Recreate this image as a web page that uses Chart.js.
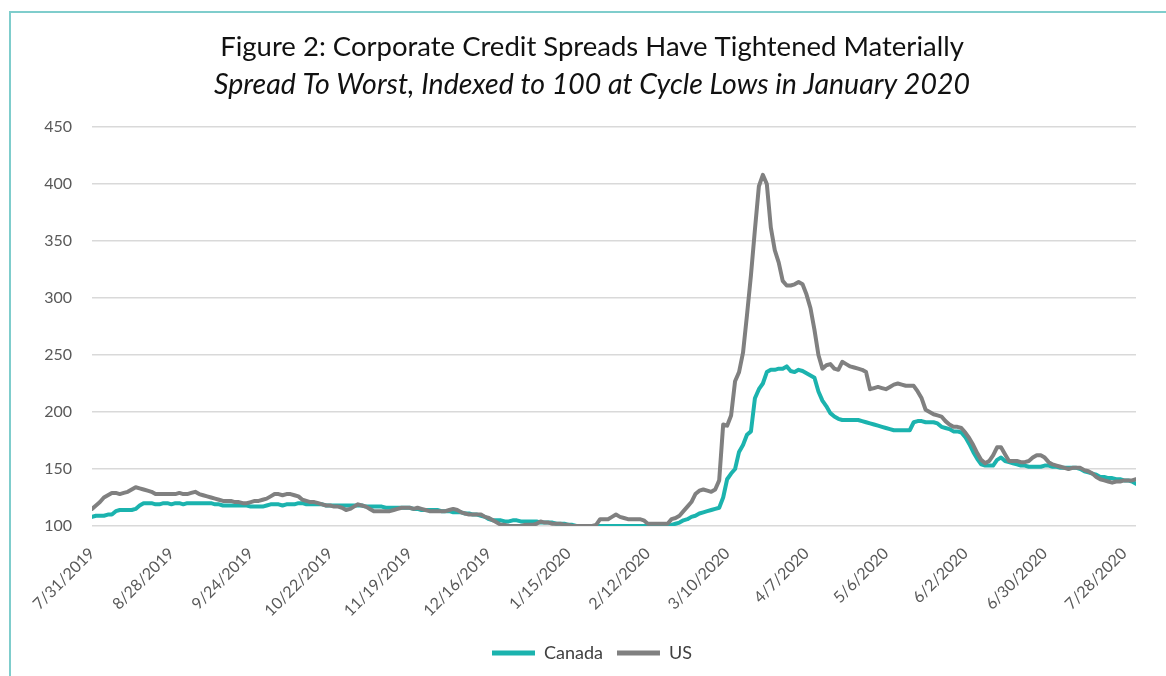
<!DOCTYPE html>
<html>
<head>
<meta charset="utf-8">
<script src="https://cdn.jsdelivr.net/npm/chart.js@4.4.1/dist/chart.umd.min.js"></script>
<style>
  html, body { margin: 0; padding: 0; background: #ffffff; }
  #wrap { position: relative; width: 1166px; height: 676px; }
</style>
</head>
<body>
<div id="wrap"><canvas id="c" width="1166" height="676"></canvas></div>
<script>
// Tick labels (every 20 trading days) and their positions in trading-day index
const tickLabels = ["7/31/2019","8/28/2019","9/24/2019","10/22/2019","11/19/2019","12/16/2019","1/15/2020","2/12/2020","3/10/2020","4/7/2020","5/6/2020","6/2/2020","6/30/2020","7/28/2020"];
const tickIndex = [0,20,40,60,80,100,120,140,160,180,200,220,240,260];

// US spread to worst, indexed (one value per trading day, 7/31/2019 .. 7/31/2020)
const us = [
115,118,121,125,127,129,129,128,129,130,
132,134,133,132,131,130,128,128,128,128,
128,128,129,128,128,129,130,128,127,126,
125,124,123,122,122,122,121,121,120,120,
121,122,122,123,124,126,128,128,127,128,
128,127,126,123,122,121,121,120,119,118,
118,117,117,116,114,115,117,119,118,117,
115,113,113,113,113,113,114,115,116,116,
116,115,116,115,114,113,113,113,113,113,
114,115,114,112,111,110,110,110,110,108,
107,105,103,101,101,100,100,100,100,101,
101,101,102,104,103,103,102,102,102,101,
101,100,100,100,100,100,100,101,106,106,
106,108,110,108,107,106,106,106,106,105,
102,102,102,102,102,102,106,107,109,113,
117,121,128,131,132,131,130,132,140,189,
188,197,227,235,252,285,320,360,398,408,
400,362,342,331,315,311,311,312,314,312,
303,291,272,250,238,241,242,238,237,244,
242,240,239,238,237,235,220,221,222,221,
220,222,224,225,224,223,223,223,218,212,
202,200,198,197,196,192,189,187,187,186,
182,177,171,164,158,155,157,162,169,169,
163,157,157,157,156,156,157,160,162,162,
160,156,154,153,152,151,150,151,151,151,
149,148,146,143,141,140,139,138,139,139,
140,140,140,141
];

// Canada spread to worst, indexed
const canada = [
108,109,109,109,110,110,113,114,114,114,
114,115,118,120,120,120,119,119,120,120,
119,120,120,119,120,120,120,120,120,120,
120,119,119,118,118,118,118,118,118,118,
117,117,117,117,118,119,119,119,118,119,
119,119,120,120,119,119,119,119,119,118,
118,118,118,118,118,118,118,118,118,117,
117,117,117,117,116,116,116,116,116,116,
116,115,115,114,114,114,114,114,113,113,
113,112,112,112,111,111,110,110,109,108,
106,105,105,105,104,104,105,105,104,104,
104,104,104,103,103,103,103,102,102,102,
101,101,100,100,100,100,100,100,100,100,
100,100,100,100,100,100,100,100,100,100,
100,100,100,100,100,100,101,102,103,105,
106,108,109,111,112,113,114,115,116,125,
141,146,150,165,171,180,183,212,220,225,
235,237,237,238,238,240,236,235,237,236,
234,232,230,218,210,205,199,196,194,193,
193,193,193,193,192,191,190,189,188,187,
186,185,184,184,184,184,184,191,192,192,
191,191,191,190,187,186,185,183,183,182,
178,172,165,159,154,153,153,153,158,160,
157,156,155,154,153,153,152,152,152,152,
153,153,152,152,151,151,151,151,151,150,
148,147,146,145,143,143,142,142,141,141,
140,140,139,137
];

const yTicks = [100,150,200,250,300,350,400,450];

const FONT = "Lato, 'Open Sans', sans-serif";

const framePlugin = {
  id: 'frame',
  beforeDraw(chart) {
    const ctx = chart.ctx;
    ctx.save();
    ctx.fillStyle = '#ffffff';
    ctx.fillRect(0, 0, chart.width, chart.height);
    ctx.strokeStyle = '#7fcdcc';
    ctx.lineWidth = 2;
    ctx.beginPath();
    ctx.moveTo(10, chart.height + 5);
    ctx.lineTo(10, 12);
    ctx.lineTo(chart.width + 5, 12);
    ctx.stroke();
    ctx.restore();
  }
};

const toPts = arr => arr.map((v, i) => ({ x: i, y: v }));

new Chart(document.getElementById('c'), {
  type: 'line',
  data: {
    datasets: [
      { label: 'Canada', data: toPts(canada), borderColor: '#1bb3ae', backgroundColor: '#1bb3ae',
        borderWidth: 4, pointRadius: 0, tension: 0, order: 1, borderJoinStyle: 'round', borderCapStyle: 'round' },
      { label: 'US', data: toPts(us), borderColor: '#808080', backgroundColor: '#808080',
        borderWidth: 4, pointRadius: 0, tension: 0, order: 0, borderJoinStyle: 'round', borderCapStyle: 'round' }
    ]
  },
  options: {
    responsive: false,
    animation: false,
    events: [],
    layout: { padding: { left: 18, right: 0, top: 0, bottom: 4 } },
    plugins: {
      title: {
        display: true,
        text: 'Figure 2: Corporate Credit Spreads Have Tightened Materially',
        color: '#111111',
        font: { family: FONT, size: 27.5, weight: 'normal' },
        padding: { top: 30.5, bottom: 4.4 }
      },
      subtitle: {
        display: true,
        text: 'Spread To Worst, Indexed to 100 at Cycle Lows in January 2020',
        color: '#111111',
        font: { family: FONT, size: 28.5, weight: 'normal', style: 'italic' },
        padding: { top: 0, bottom: 24.9 }
      },
      legend: {
        position: 'bottom',
        labels: {
          boxWidth: 43,
          boxHeight: 5,
          padding: 14,
          color: '#404040',
          font: { family: FONT, size: 18 },
          generateLabels: chart => chart.data.datasets.map((ds, i) => ({
            text: ds.label, fillStyle: ds.borderColor, strokeStyle: ds.borderColor,
            lineWidth: 0, hidden: false, datasetIndex: i, fontColor: '#404040'
          }))
        }
      },
      tooltip: { enabled: false }
    },
    scales: {
      x: {
        type: 'linear',
        min: 0,
        max: canada.length - 1,
        grid: { display: false, drawTicks: false, tickLength: 0 },
        border: { display: false },
        afterBuildTicks: s => { s.ticks = tickIndex.map(v => ({ value: v })); },
        afterFit: s => { s.height = 104; },
        ticks: {
          autoSkip: false,
          minRotation: 45,
          maxRotation: 45,
          padding: 18,
          labelOffset: 0,
          color: '#595959',
          font: { family: FONT, size: 16 },
          callback: v => tickLabels[tickIndex.indexOf(v)]
        }
      },
      y: {
        min: 100,
        max: 450,
        afterBuildTicks: s => { s.ticks = yTicks.map(v => ({ value: v })); },
        afterFit: s => { s.width = 74; },
        grid: { color: '#d9d9d9', lineWidth: 1.5, drawTicks: false, tickLength: 0 },
        border: { display: false },
        ticks: {
          padding: 20,
          color: '#595959',
          font: { family: FONT, size: 16 }
        }
      },
      yRight: {
        position: 'right',
        display: true,
        grid: { display: false, drawTicks: false },
        border: { display: false },
        ticks: { display: false },
        afterFit: s => { s.width = 30; }
      }
    }
  },
  plugins: [framePlugin]
});
</script>
</body>
</html>
